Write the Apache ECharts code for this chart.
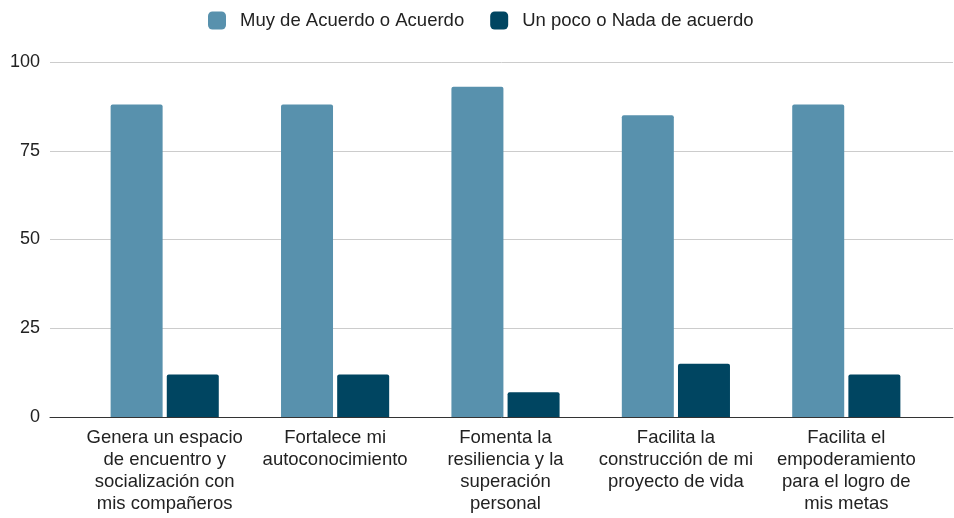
<!DOCTYPE html>
<html><head><meta charset="utf-8">
<script src="https://cdn.jsdelivr.net/npm/echarts@6/dist/echarts.min.js"></script>
<style>html,body{margin:0;padding:0;background:#fff}#c{width:954px;height:518px}</style>
</head><body><div id="c"></div>
<script>
var categories = [
  "Genera un espacio\nde encuentro y\nsocialización con\nmis compañeros",
  "Fortalece mi\nautoconocimiento",
  "Fomenta la\nresiliencia y la\nsuperación\npersonal",
  "Facilita la\nconstrucción de mi\nproyecto de vida",
  "Facilita el\nempoderamiento\npara el logro de\nmis metas"
];
var seriesNames = ["Muy de Acuerdo o Acuerdo", "Un poco o Nada de acuerdo"];
var acuerdo = [88, 88, 93, 85, 88];
var desacuerdo = [12, 12, 7, 15, 12];
var yTicks = [0, 25, 50, 75, 100];

var FONT = "'Liberation Sans', Arial, sans-serif";
var chart = echarts.init(document.getElementById('c'), null, {renderer: 'canvas'});
chart.setOption({
  animation: false,
  legend: {
    left: 203, top: 6,
    itemWidth: 18, itemHeight: 18, itemGap: 26,
    icon: 'roundRect',
    textStyle: {fontFamily: FONT, fontSize: 18.5, color: '#222', padding: [0, 0, 0, 9]},
    data: seriesNames
  },
  grid: [
    {left: 50, right: 1, top: 62, bottom: 101},
    {left: 79.5, right: 22.5, top: 62, bottom: 101}
  ],
  xAxis: [
    {type: 'value', gridIndex: 0, min: 0, max: 1, show: true,
     axisLine: {show: true, onZero: false, lineStyle: {color: '#333', width: 1}},
     axisTick: {show: false}, axisLabel: {show: false}, splitLine: {show: false}},
    {type: 'category', gridIndex: 1, data: categories,
     axisLine: {show: false}, axisTick: {show: false},
     axisLabel: {fontFamily: FONT, fontSize: 18.5, color: '#222', lineHeight: 22, margin: 10, interval: 0}}
  ],
  yAxis: [
    {type: 'value', gridIndex: 0, min: yTicks[0], max: yTicks[yTicks.length - 1], interval: 25,
     axisLine: {show: false}, axisTick: {show: false},
     axisLabel: {fontFamily: FONT, fontSize: 18, color: '#222', margin: 10},
     splitLine: {lineStyle: {color: '#cccccc', width: 1}}},
    {type: 'value', gridIndex: 1, min: yTicks[0], max: yTicks[yTicks.length - 1], interval: 25,
     show: false, splitLine: {show: false}}
  ],
  series: [
    {name: seriesNames[0], type: 'bar', xAxisIndex: 1, yAxisIndex: 1, data: acuerdo,
     barWidth: 52, barGap: '8%', itemStyle: {color: '#5891ad', borderRadius: [2, 2, 0, 0]}},
    {name: seriesNames[1], type: 'bar', xAxisIndex: 1, yAxisIndex: 1, data: desacuerdo,
     barWidth: 52, barGap: '8%', itemStyle: {color: '#004561', borderRadius: [2, 2, 0, 0]}}
  ]
});
</script></body></html>
